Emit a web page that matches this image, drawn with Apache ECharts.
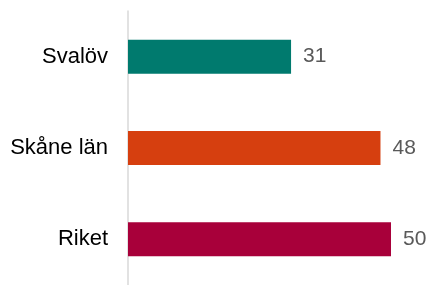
<!DOCTYPE html>
<html>
<head>
<meta charset="utf-8">
<script src="https://cdn.jsdelivr.net/npm/echarts@6/dist/echarts.min.js"></script>
<style>
  html, body { margin: 0; padding: 0; background: #fff; }
  #chart { width: 432px; height: 285px; }
</style>
</head>
<body>
<div id="chart"></div>
<script>
// kategorier och värden
const categories = ['Svalöv', 'Skåne län', 'Riket'];
const values = [31, 48, 50];
const barColors = ['#007A6E', '#D63F0F', '#A8003A'];

let chartDom = document.getElementById('chart');
let chart = echarts.init(chartDom, null, { renderer: 'canvas' });

let option = {
    animation: false,
    grid: {
        left: 128,
        top: 11,
        width: 263,
        height: 276
    },
    xAxis: {
        type: 'value',
        min: 0,
        max: 50,
        show: false
    },
    yAxis: {
        type: 'category',
        data: categories,
        inverse: true,
        axisLine: { show: true, lineStyle: { color: '#d9d9d9', width: 1.5 } },
        axisTick: { show: false },
        axisLabel: {
            color: '#000',
            fontSize: 22,
            fontFamily: 'Liberation Sans, Arial, sans-serif',
            margin: 20
        }
    },
    series: [{
        type: 'bar',
        barWidth: 34,
        data: values.map((v, i) => ({ value: v, itemStyle: { color: barColors[i] } })),
        label: {
            show: true,
            position: 'right',
            distance: 12,
            color: '#595959',
            fontSize: 21,
            fontFamily: 'Liberation Sans, Arial, sans-serif'
        }
    }]
};

chart.setOption(option);
window.addEventListener('resize', () => {
    chart.resize();
});
</script>
</body>
</html>
